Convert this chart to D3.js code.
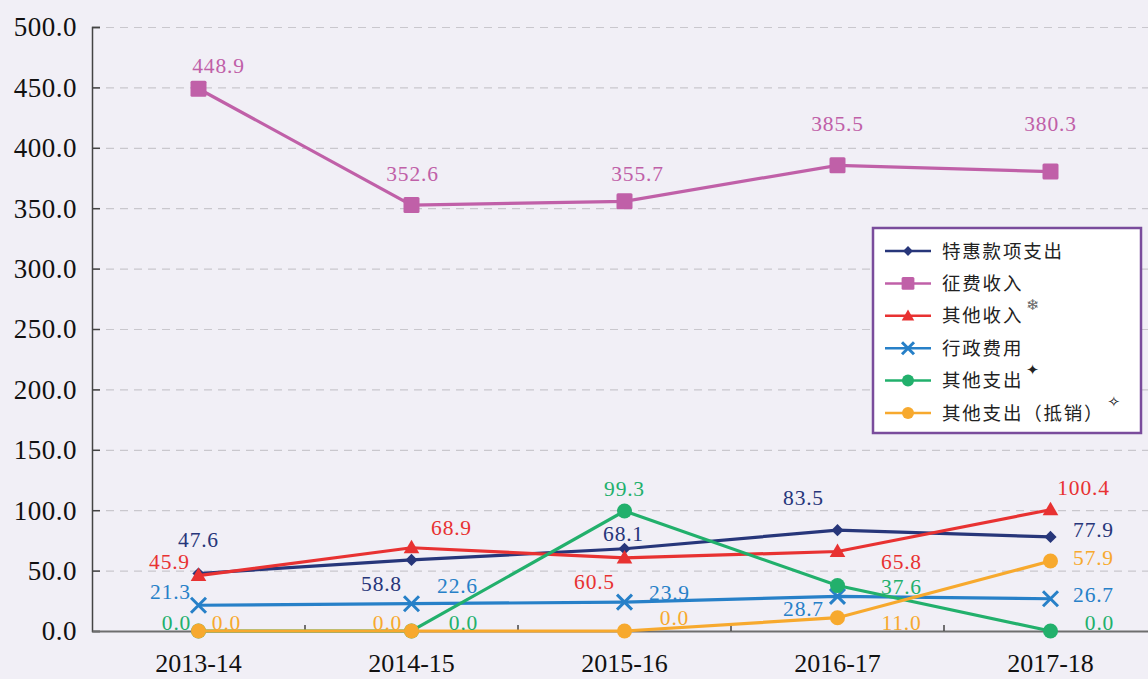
<!DOCTYPE html>
<html>
<head>
<meta charset="utf-8">
<script src="https://cdn.jsdelivr.net/npm/d3@7"></script>
<style>
  body { margin: 0; background: #f1eff6; }
  svg { display: block; }
  .grid line { stroke: #c9c7cd; stroke-dasharray: 8 6; stroke-width: 1.2; }
  .grid path { stroke-width: 0; }
  .yTxt { font-family: "Liberation Serif", "Times New Roman", serif; font-size: 27px; letter-spacing: 0.5px; fill: #111; }
  .xTxt { font-family: "Liberation Serif", "Times New Roman", serif; font-size: 26px; fill: #111; }
  .valTxt { font-family: "Liberation Serif", "Times New Roman", serif; font-size: 21.5px; letter-spacing: 0.8px; }
  .legTxt { font-family: "Noto Sans CJK SC", sans-serif; font-size: 18.5px; letter-spacing: 1.8px; fill: #222; }
</style>
</head>
<body>
<div id="chart"></div>
<script>
// data
const years = ["2013-14", "2014-15", "2015-16", "2016-17", "2017-18"];
const yTicks = [0, 50, 100, 150, 200, 250, 300, 350, 400, 450, 500];

const seriesNames = ["特惠款项支出", "征费收入", "其他收入", "行政费用", "其他支出", "其他支出（抵销）"];
const seriesMarks = ["", "", "❄", "", "✦", "✧"];

const grantPayments = [47.6, 58.8, 68.1, 83.5, 77.9];
const levyIncome = [448.9, 352.6, 355.7, 385.5, 380.3];
const otherIncome = [45.9, 68.9, 60.5, 65.8, 100.4];
const adminCost = [21.3, 22.6, 23.9, 28.7, 26.7];
const otherSpend = [0.0, 0.0, 99.3, 37.6, 0.0];
const otherSpendOffset = [0.0, 0.0, 0.0, 11.0, 57.9];

const allValues = [grantPayments, levyIncome, otherIncome, adminCost, otherSpend, otherSpendOffset];

// styling
const colors = ["#27367a", "#c060a8", "#e83232", "#2780c8", "#22b06c", "#f7a92e"];
const shapes = ["diamond", "square", "triangle", "cross", "circle", "circle"];

// where each value label sits relative to its point (hand placed like the original)
const labelOffsets = [
    [[0, -34], [-30, 24], [-1, -15], [-34, -33], [43, -7]],
    [[20, -23], [1, -32], [13, -28], [0, -42], [0, -48]],
    [[-29, -14], [40, -20], [-30, 24], [64, 10], [33, -22]],
    [[-28, -14], [46, -18], [45, -10], [-34, 12], [43, -4]],
    [[-22, -9], [52, -9], [0, -23], [64, 1], [49, -9]],
    [[28, -9], [-24, -9], [50, -14], [64, 5], [43, -4]]
];

const width = 1148, height = 679;
const plotLeft = 92, plotTop = 27, plotBottom = 631;

const svg = d3.select("#chart").append("svg")
    .attr("width", width)
    .attr("height", height);

svg.append("rect").attr("width", width).attr("height", height).attr("fill", "#f1eff6");

const xScale = d3.scaleBand()
    .domain(years)
    .range([plotLeft, plotLeft + 213 * years.length])
    .padding(0);

const yScale = d3.scaleLinear()
    .domain([0, 500])
    .range([plotBottom, plotTop]);

const cx = d => xScale(d) + xScale.bandwidth() / 2;

// dashed grid
svg.append("g")
    .attr("class", "grid")
    .attr("transform", `translate(${plotLeft},0)`)
    .call(d3.axisRight(yScale).tickValues(yTicks.filter(t => t > 0)).tickSize(width - plotLeft).tickFormat(""));

// y axis
const yAxis = svg.append("g")
    .attr("transform", `translate(${plotLeft},0)`)
    .call(d3.axisRight(yScale).tickValues(yTicks).tickSize(8).tickFormat(""));
yAxis.select(".domain").attr("stroke", "#444").attr("stroke-width", 1.5);
yAxis.selectAll(".tick line").attr("stroke", "#444").attr("stroke-width", 1.5);

svg.append("g").selectAll("text")
    .data(yTicks)
    .join("text")
    .attr("class", "yTxt")
    .attr("x", 77)
    .attr("y", d => yScale(d))
    .attr("dy", "0.35em")
    .attr("text-anchor", "end")
    .text(d => d.toFixed(1));

// x axis
const xAxis = svg.append("g")
    .attr("transform", `translate(0,${plotBottom})`)
    .call(d3.axisTop(xScale).tickSize(0).tickFormat(""));
xAxis.select(".domain").attr("stroke", "#6e6e6e").attr("stroke-width", 2);
xAxis.selectAll(".tick").remove();

svg.append("g").selectAll("line")
    .data(years.slice(1))
    .join("line")
    .attr("x1", d => xScale(d)).attr("x2", d => xScale(d))
    .attr("y1", plotBottom).attr("y2", plotBottom - 6)
    .attr("stroke", "#444").attr("stroke-width", 1.5);

svg.append("g").selectAll("text")
    .data(years)
    .join("text")
    .attr("class", "xTxt")
    .attr("x", d => cx(d))
    .attr("y", 672)
    .attr("text-anchor", "middle")
    .text(d => d);

function drawMarker(g, shape, color, x, y, s) {
    if (shape === "circle") {
        g.append("circle").attr("cx", x).attr("cy", y).attr("r", 7.5 * s).attr("fill", color);
    } else if (shape === "square") {
        g.append("rect").attr("x", x - 8 * s).attr("y", y - 8 * s)
            .attr("width", 16 * s).attr("height", 16 * s).attr("rx", 1.5).attr("fill", color);
    } else if (shape === "diamond") {
        g.append("path").attr("d", d3.symbol(d3.symbolDiamond2, 95 * s * s)()).attr("transform", `translate(${x},${y})`).attr("fill", color);
    } else if (shape === "triangle") {
        g.append("path").attr("d", d3.symbol(d3.symbolTriangle2, 175 * s * s)()).attr("transform", `translate(${x},${y + 1})`).attr("fill", color);
    } else if (shape === "cross") {
        const r = 7.5 * s;
        g.append("path").attr("d", `M${x - r},${y - r}L${x + r},${y + r}M${x - r},${y + r}L${x + r},${y - r}`)
            .attr("stroke", color).attr("stroke-width", 3).attr("fill", "none");
    }
}

const line = d3.line()
    .x((d, i) => cx(years[i]))
    .y(d => yScale(d));

allValues.forEach((vals, si) => {
    const g = svg.append("g");
    g.append("path")
        .datum(vals)
        .attr("d", line)
        .attr("fill", "none")
        .attr("stroke", colors[si])
        .attr("stroke-width", 3.2);
    vals.forEach((v, i) => drawMarker(g, shapes[si], colors[si], cx(years[i]), yScale(v), 1));
});

// value labels
allValues.forEach((vals, si) => {
    svg.append("g").selectAll("text")
        .data(vals)
        .join("text")
        .attr("class", "valTxt")
        .attr("fill", colors[si])
        .attr("x", (d, i) => cx(years[i]) + labelOffsets[si][i][0])
        .attr("y", (d, i) => yScale(d) + labelOffsets[si][i][1])
        .attr("dy", "0.35em")
        .attr("text-anchor", "middle")
        .text(d => d.toFixed(1));
});

// legend
const legend = svg.append("g").attr("transform", "translate(873,228)");
legend.append("rect")
    .attr("width", 268).attr("height", 205)
    .attr("fill", "#ffffff")
    .attr("stroke", "#7a4c9c")
    .attr("stroke-width", 2.5);

seriesNames.forEach((name, i) => {
    const y = 23 + i * 32.4;
    legend.append("line")
        .attr("x1", 12).attr("x2", 58).attr("y1", y).attr("y2", y)
        .attr("stroke", colors[i]).attr("stroke-width", 2.5);
    drawMarker(legend, shapes[i], colors[i], 35, y, 0.8);
    const t = legend.append("text")
        .attr("class", "legTxt")
        .attr("x", 69).attr("y", y)
        .attr("dy", "0.36em")
        .text(name);
    if (seriesMarks[i]) {
        const tw = t.node().getComputedTextLength();
        legend.append("text")
            .attr("x", 69 + tw + 3).attr("y", y - 6)
            .attr("font-family", "DejaVu Sans")
            .attr("font-size", 15)
            .attr("fill", i === 2 ? "#666" : "#222")
            .text(seriesMarks[i]);
    }
});
</script>
</body>
</html>
